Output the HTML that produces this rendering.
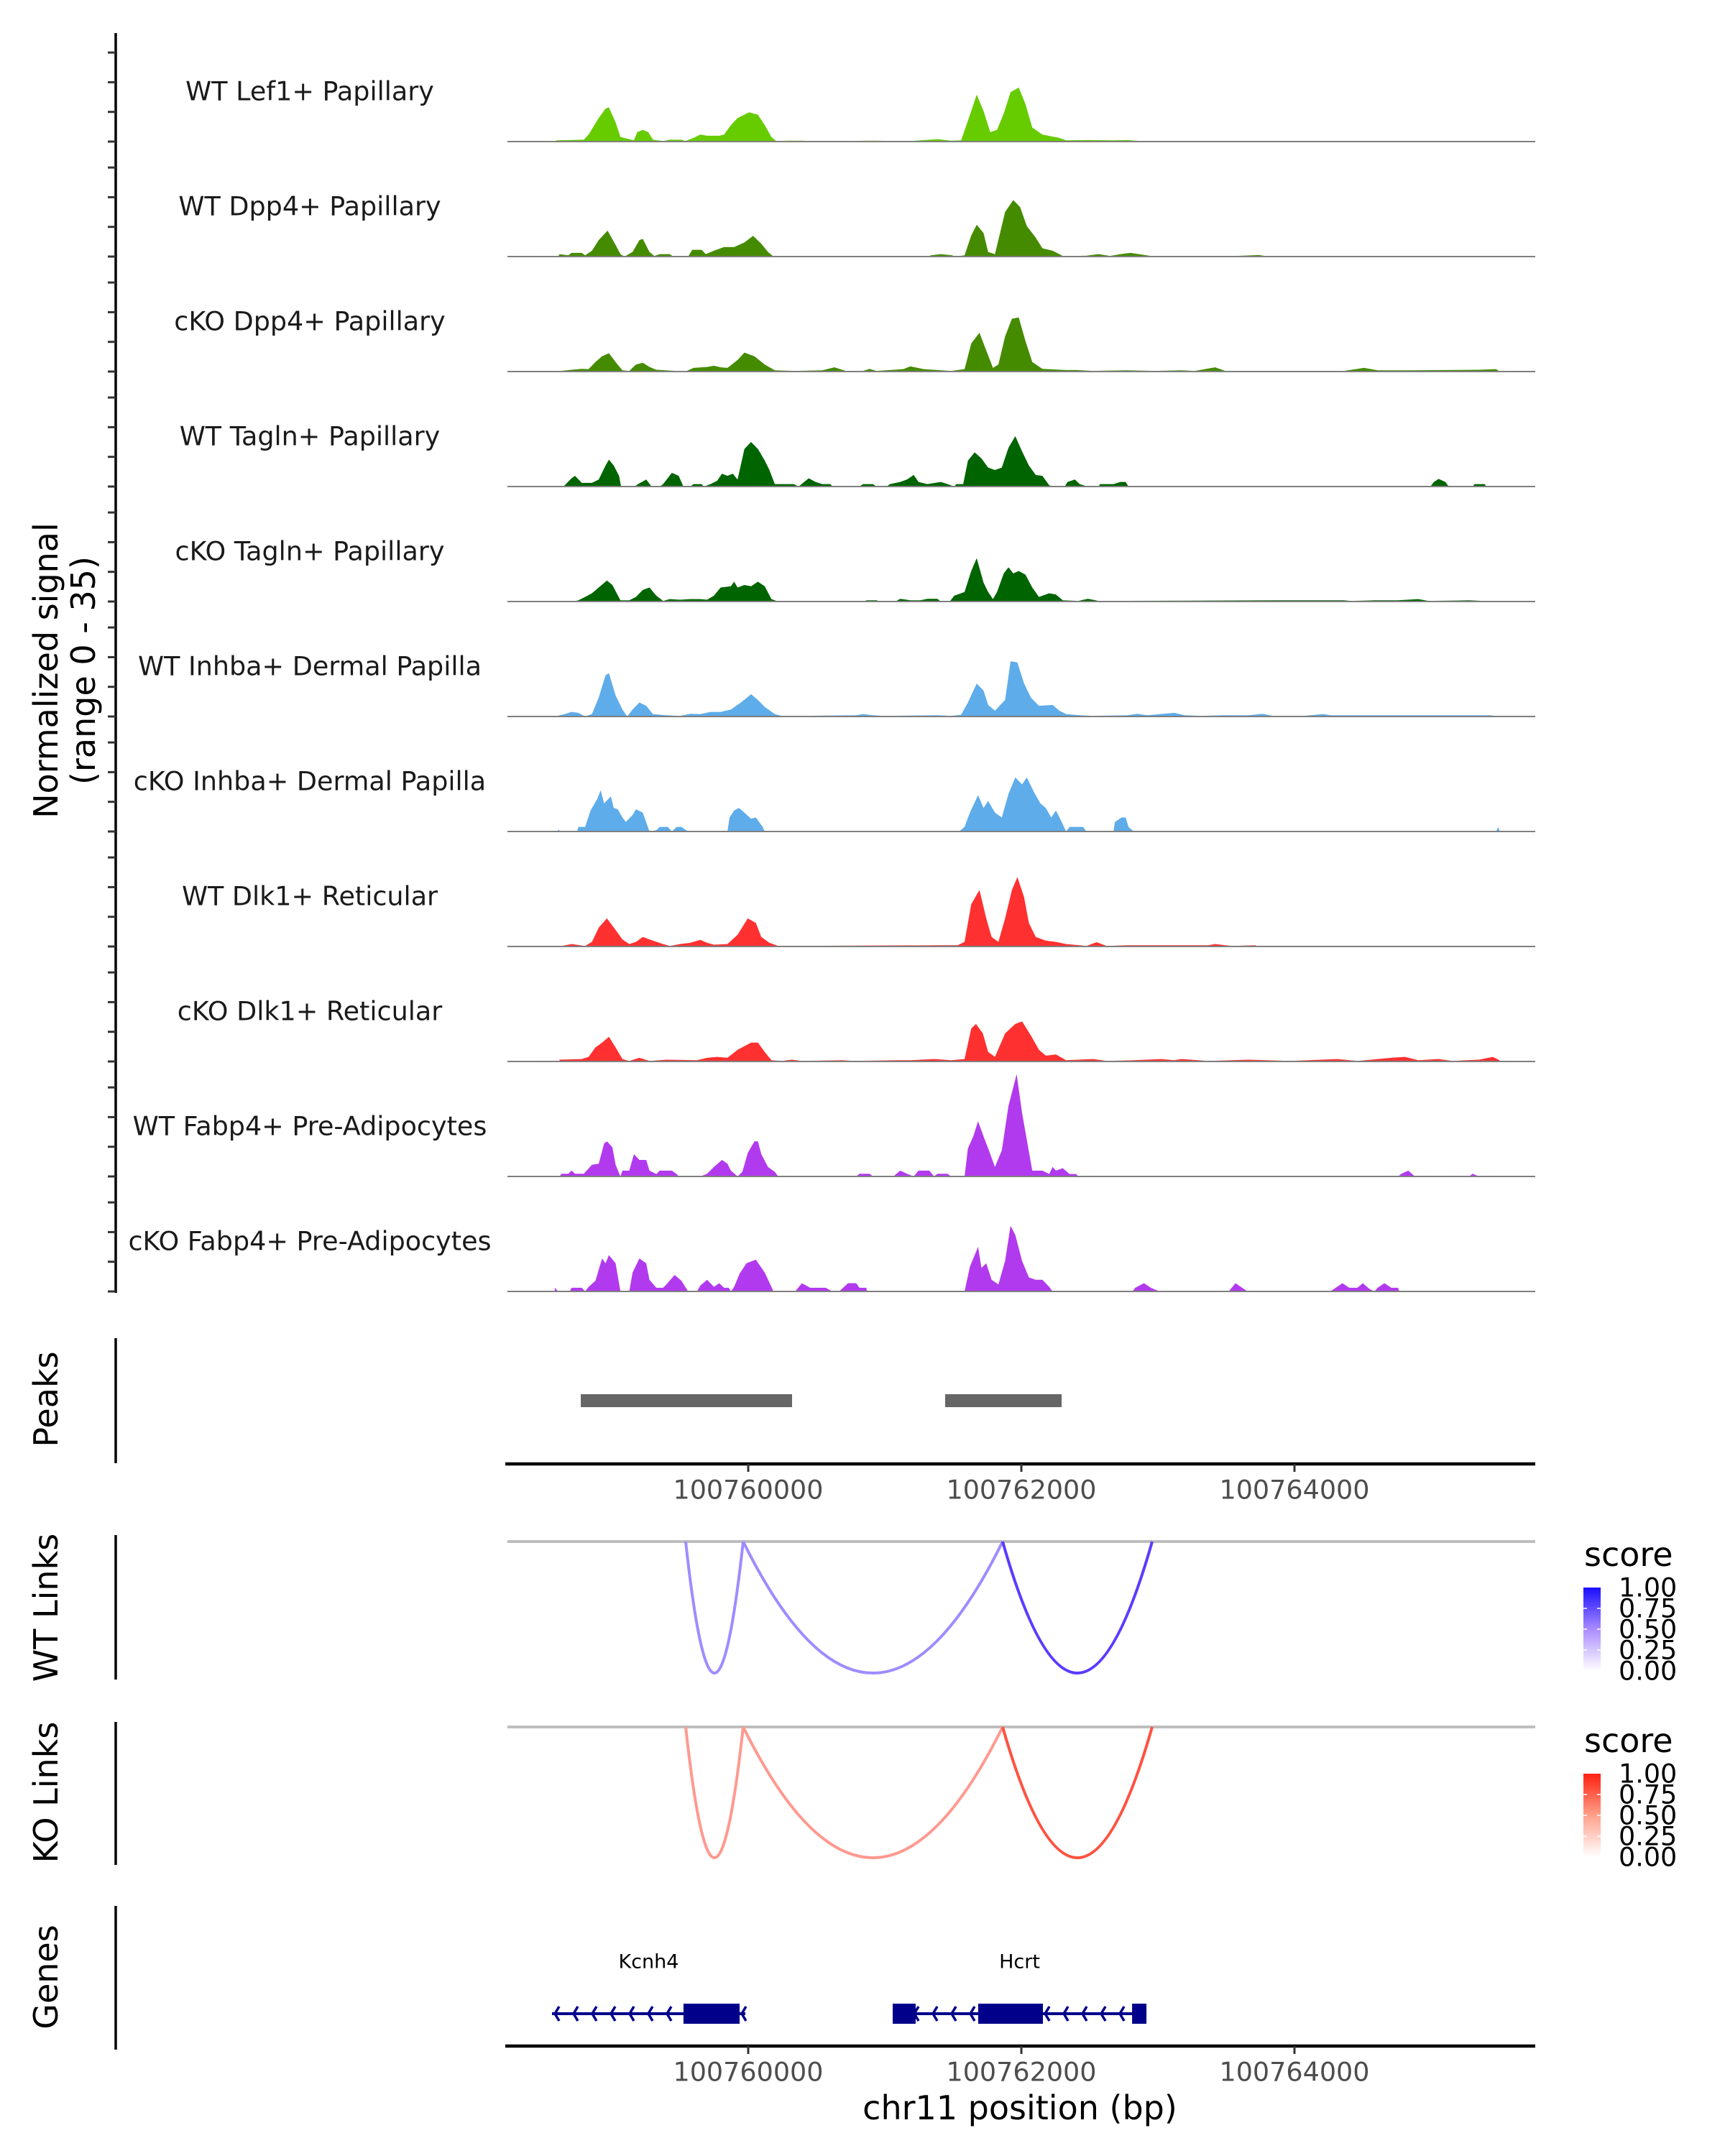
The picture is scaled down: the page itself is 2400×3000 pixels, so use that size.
<!DOCTYPE html>
<html><head><meta charset="utf-8"><style>
html,body{margin:0;padding:0;background:#fff;}
svg{display:block;}
text{font-family:"DejaVu Sans","Liberation Sans",sans-serif;}
</style></head><body>
<svg id="chart" width="2400" height="3000" viewBox="0 0 2400 3000" xmlns="http://www.w3.org/2000/svg">
<defs>
<linearGradient id="gBlue" x1="0" y1="1" x2="0" y2="0"><stop offset="0" stop-color="#ffffff"/><stop offset="0.5" stop-color="#a98cff"/><stop offset="1" stop-color="#1a0dff"/></linearGradient>
<linearGradient id="gRed" x1="0" y1="1" x2="0" y2="0"><stop offset="0" stop-color="#ffffff"/><stop offset="0.5" stop-color="#ffa08a"/><stop offset="1" stop-color="#ff2010"/></linearGradient>
</defs>
<g id="tracks"></g>
<g id="others"></g>
</svg>
<script>
const regionStart = 100757970;
const trackNames = ["WT Lef1+ Papillary","WT Dpp4+ Papillary","cKO Dpp4+ Papillary","WT Tagln+ Papillary","cKO Tagln+ Papillary","WT Inhba+ Dermal Papilla","cKO Inhba+ Dermal Papilla","WT Dlk1+ Reticular","cKO Dlk1+ Reticular","WT Fabp4+ Pre-Adipocytes","cKO Fabp4+ Pre-Adipocytes"];
const trackColors = ["#66cc00","#458b00","#458b00","#006400","#006400","#5eacea","#5eacea","#ff3030","#ff3030","#b23aee","#b23aee"];

const lef1Off = [613,628,826,861,935,985,1010,1060,1094,1159,1193,1218,1258,1298,1332,1407,1456,1541,1570,1630,1679,1729,1818,1853,1903,1952,2037,2101,2151,2200,2235,2324,2423,2523,2919,3217,3415,3515,3589,3663,3703,3753,3802,3852,3901,3951,4011,4060,4110,4184,4308,4358,4507,4705,4804,4903,5201,5796,6391,6689];
const lef1Val = [0,0.4,0.6,2.3,7.7,10.8,11.2,6.2,1.5,0.8,0.4,3.1,3.8,3.1,0.6,0.2,0.6,0.6,0.2,1.2,2.3,1.9,1.9,2.3,5.4,7.7,9.6,8.8,5.4,1.5,0.2,0.3,0.3,0.1,0.3,0.2,0.8,0.3,0.4,10,15.4,10,3.1,3.8,9.2,16.2,17.7,12.3,4.6,2.3,1.2,0.4,0.5,0.4,0.5,0.2,0.2,0.2,0.2,0];

const wtDpp4Off = [638,648,712,737,811,836,886,935,1000,1059,1094,1124,1183,1233,1258,1307,1342,1382,1456,1481,1590,1620,1689,1719,1779,1853,1927,2002,2066,2126,2175,2215,3356,3366,3440,3525,3539,3614,3663,3703,3753,3787,3837,3911,3971,4021,4070,4135,4184,4259,4333,4432,4507,4596,4680,4755,4829,4978,5399,5598,5771,5846];
const wtDpp4Val = [0,0.8,0.4,1.2,1.2,0.4,1.9,5.4,8.5,3.8,0.8,0,1.5,5.4,5.8,1.5,0.2,0.8,0.8,0,0,2.2,2.2,0.8,1.9,3.1,3.1,4.6,6.8,4.2,1.5,0,0,0.4,0.8,0.4,0,0.4,6.9,10.4,7.7,1.5,0.8,14.6,18.5,16.2,10,6.2,2.7,1.9,0.2,0.2,0.3,0.8,0.2,0.8,1.2,0.2,0.2,0.2,0.5,0];

const koDpp4Off = [613,737,811,861,911,960,1010,1059,1109,1159,1208,1258,1307,1357,1506,1580,1630,1729,1779,1828,1878,1952,2002,2076,2151,2225,2374,2572,2661,2746,2870,2919,2969,3167,3217,3316,3415,3515,3614,3663,3723,3773,3822,3862,3911,3961,4011,4060,4110,4184,4358,4432,4556,4804,5003,5201,5300,5449,5523,6391,6540,6639,6887,7383,7507,7532];
const koDpp4Val = [0,0.6,0.9,0.8,3.1,5,6,3.1,0.4,0.2,2.3,2.9,1.5,0.6,0.2,0.2,1.2,1.5,1.9,1.4,1.2,3.8,6.2,5,2.3,0.4,0.2,0.4,1.4,0.2,0.2,0.9,0.2,0.8,1.7,0.8,0.5,0.2,0.8,9.2,12.7,6.9,1.2,2.3,11.5,17.3,17.7,10,3.1,0.9,0.5,0.5,0.2,0.4,0.2,0.4,0.2,1.4,0.2,0.2,1.2,0.4,0.4,0.6,0.8,0];

const wtTaglnOff = [677,737,762,811,886,935,985,1010,1045,1084,1099,1198,1223,1283,1322,1382,1407,1471,1521,1555,1605,1630,1689,1704,1754,1803,1838,1878,1917,1952,2002,2051,2101,2151,2185,2225,2275,2364,2399,2473,2523,2572,2632,2647,2845,2870,2944,2969,3043,3068,3143,3192,3242,3277,3341,3440,3490,3539,3554,3604,3639,3688,3738,3787,3837,3887,3936,3986,4035,4085,4135,4184,4234,4259,4348,4368,4422,4457,4517,4596,4606,4705,4755,4794,4814,7026,7051,7086,7135,7160,7334,7349,7423,7433];
const wtTaglnVal = [0,2.7,3.5,1.2,1.2,2.3,6.9,8.8,6.9,3.5,0,0,0.8,2.3,0,0,0.8,4.5,3.5,0,0,0.8,0.8,0,0.8,1.9,4.2,3.5,4.2,2.3,12.3,14.6,12.3,8.5,5.4,0.8,0.8,0.8,0,2.7,1.5,0.8,0.8,0,0,0.8,0.8,0,0,0.8,1.5,2.3,3.8,1.5,0.8,1.5,0.8,0,0.8,0.8,8.5,11.2,9.2,6.2,5.4,6.2,12.7,16.5,11.5,6.9,3.8,3.5,0.4,0,0,1.5,2.3,0.8,0,0,0.8,0.8,1.5,1.5,0,0,1.5,2.5,1.5,0,0,0.8,0.8,0];

const koTaglnOff = [747,787,836,886,935,995,1035,1094,1159,1208,1258,1307,1357,1407,1456,1531,1605,1679,1729,1779,1828,1903,1927,1952,2002,2051,2101,2151,2200,2250,2885,2895,2969,2994,3108,3143,3217,3291,3341,3415,3440,3505,3539,3614,3663,3703,3753,3787,3822,3852,3901,3936,3971,4011,4060,4110,4159,4234,4283,4333,4447,4517,4596,5895,6094,6391,6441,6615,6788,6937,7011,7309,7408];
const koTaglnVal = [0,0.4,1.5,2.7,4.6,6.9,5.4,0.4,0.4,1.5,3.8,4.6,1.9,0.2,0.8,0.6,0.8,0.8,0.6,1.9,4.6,5,6.5,4.6,5.4,5,6.5,5,0.8,0,0,0.4,0.4,0,0,0.9,0.4,0.4,0.9,0.9,0,0,1.9,3.1,10,14.2,6.2,3.1,0.8,3.1,9.2,11.2,9.2,10,8.8,4.6,1.5,2.7,2.3,0.4,0.2,0.9,0.2,0.4,0.4,0.4,0.2,0.4,0.4,0.8,0.2,0.4,0.2];

const wtInhbaOff = [613,687,737,787,836,886,935,985,1010,1059,1109,1144,1183,1233,1283,1332,1431,1531,1605,1679,1754,1828,1903,1977,2051,2101,2151,2225,2275,2423,2820,2870,2944,3019,3415,3515,3589,3639,3703,3753,3787,3837,3911,3951,4001,4050,4100,4159,4259,4308,4358,4457,4556,4804,4879,4953,5151,5226,5350,5499,5697,5796,5871,6094,6243,6292,6590,7458,7507];
const wtInhbaVal = [0,0.8,1.5,1.2,0,0.8,6.2,13.5,14.2,6.9,2.3,0,2.3,4.6,3.5,0.8,0.4,0.2,0.9,0.8,1.5,1.5,2.3,4.6,7.3,5.4,3.1,0.8,0.2,0.2,0.4,0.8,0.4,0.2,0.4,0.2,0.6,4.6,10.8,8.5,3.8,1.9,5.4,18.1,17.7,10.8,6.2,3.5,3.8,1.9,0.8,0.4,0.2,0.4,0.9,0.4,1.2,0.4,0.2,0.4,0.4,0.9,0.2,0.2,0.8,0.4,0.4,0.4,0.2];

const koInhbaOff = [638,653,777,787,836,876,926,950,975,1025,1045,1074,1109,1134,1183,1208,1258,1307,1357,1382,1441,1471,1506,1541,1590,1878,1893,1927,1962,2002,2051,2086,2136,2151,3574,3614,3653,3713,3753,3787,3837,3887,3936,3986,4035,4070,4120,4169,4209,4249,4283,4318,4358,4383,4482,4507,4705,4715,4764,4794,4814,4854,7507,7522,7532];
const koInhbaVal = [0.8,0,0,1.5,1.5,6.9,10.8,13.5,9.2,11.5,7.7,7.3,4.6,3.1,5.4,7.3,6.2,0,0.4,1.5,1.5,0,1.5,1.5,0,0,4.6,6.9,7.7,6.2,4.2,4.6,1.5,0,0,1.5,6.2,11.9,7.7,10,6.2,4.6,12.3,17.7,15.4,17.7,13.1,9.2,7.7,4.6,6.9,3.8,0,1.5,1.5,0,0,3.1,4.6,4.6,1.5,0,0,1.5,0];

const wtDlk1Off = [613,663,737,836,886,935,995,1059,1109,1159,1208,1258,1332,1407,1456,1531,1605,1679,1729,1779,1878,1952,2027,2086,2126,2185,2250,3415,3564,3614,3663,3723,3773,3812,3862,3911,3961,4001,4050,4085,4135,4209,4283,4358,4457,4507,4581,4655,4804,5151,5399,5449,5573,5747];
const wtDlk1Val = [0.2,0.2,0.8,0.2,1.5,6.2,9.2,5.4,2.3,0.8,1.5,3.1,1.9,0.8,0.2,0.8,1.2,2.2,1.2,0.6,0.8,3.8,9.2,7.7,3.1,1.2,0.2,0.4,0.4,1.5,13.8,18.5,9.2,3.1,1.5,9.2,18.5,22.7,16.2,7.7,3.1,1.9,1.5,0.8,0.4,0.2,1.4,0.2,0.4,0.4,0.4,0.8,0.2,0.4];

const koDlk1Off = [648,811,861,911,960,1010,1059,1109,1159,1233,1307,1431,1655,1729,1803,1878,1952,2051,2101,2151,2200,2275,2349,2423,2721,2800,3118,3217,3391,3515,3614,3663,3698,3748,3787,3837,3911,3986,4035,4100,4159,4209,4283,4358,4556,4655,4854,5052,5151,5201,5399,5697,5995,6342,6491,6739,6838,6937,7086,7185,7383,7482,7532];
const koDlk1Val = [0.6,0.8,1.5,4.6,6.2,8.1,4.6,0.8,0.2,1.2,0.2,0.6,0.4,1.2,1.5,1.2,3.8,6.2,6.2,3.1,0.4,0.2,0.6,0.2,0.4,0.2,0.4,0.4,0.8,0.4,0.8,10.8,12.3,9.2,3.1,1.5,9.2,12.3,13.1,8.5,3.8,1.9,2.3,0.4,0.8,0.2,0.4,0.8,0.4,0.8,0.2,0.6,0.2,0.8,0.2,1.2,1.5,0.4,0.8,0.2,0.6,1.5,0.4];

const wtFabp4Off = [648,663,712,737,762,826,886,935,975,995,1035,1059,1094,1109,1159,1193,1233,1283,1307,1357,1382,1471,1506,1521,1679,1729,1779,1838,1878,1903,1952,1987,2027,2076,2101,2126,2175,2225,2250,2820,2845,2919,2944,3093,3143,3192,3242,3277,3356,3391,3415,3490,3515,3614,3639,3678,3713,3753,3787,3837,3887,3936,3996,4035,4110,4184,4234,4259,4283,4333,4383,4432,4447,6788,6813,6863,6912,7309,7334,7383];
const wtFabp4Val = [0,0.9,0.9,1.9,0.9,0.9,3.8,4.2,10.8,11.5,9.6,3.8,0,1.9,1.9,7.3,5.4,5.4,1.9,0.8,1.9,1.9,0.8,0,0,0.9,3.1,5.4,4.2,1.9,0,1.5,7.7,11.5,11.5,7.3,3.1,1.5,0,0,0.9,0.9,0,0,1.9,0.9,0,1.9,1.9,0,0.9,0.9,0,0,9.2,13.1,18.1,13.1,9.2,3.1,8.5,23.1,33.5,20.8,1.9,1.9,0.8,3.1,1.9,2.7,0.8,0.8,0,0,0.9,1.9,0,0,0.9,0];

const koFabp4Off = [613,638,722,737,811,836,861,911,960,985,1010,1059,1094,1159,1183,1233,1283,1307,1357,1407,1431,1491,1541,1590,1655,1679,1729,1779,1818,1853,1888,1903,1927,1967,2017,2086,2151,2215,2374,2423,2483,2597,2647,2696,2761,2820,2845,2895,2900,3614,3653,3713,3738,3773,3812,3862,3911,3951,3986,4035,4085,4135,4184,4234,4259,4844,4864,4928,4978,5042,5548,5598,5647,5687,6292,6342,6381,6431,6491,6530,6580,6615,6639,6689,6739,6788,6798];
const koFabp4Val = [1.2,0,0,1.2,1.2,0,1.5,3.5,10.8,9.2,11.9,9.2,0,0,6.2,10.8,9.2,3.8,1.2,1.2,2.3,5.4,3.5,0,0,1.9,3.8,1.5,2.7,1.2,1.2,0,1.5,5.8,9.2,10.4,6.2,0,0,2.7,1.2,1.2,0,0,2.7,2.7,1.2,1.2,0,0,8.1,14.6,7.7,9.2,3.8,2.3,10,21.5,18.5,10,4.6,3.8,3.8,1.5,0,0,1.2,2.7,1.2,0,0,2.7,1.2,0,0,1.5,2.7,1.2,1.2,2.7,0.8,0,1.2,2.7,1.2,1.2,0];

const trackOffsets = [lef1Off,wtDpp4Off,koDpp4Off,wtTaglnOff,koTaglnOff,wtInhbaOff,koInhbaOff,wtDlk1Off,koDlk1Off,wtFabp4Off,koFabp4Off];
const trackValues = [lef1Val,wtDpp4Val,koDpp4Val,wtTaglnVal,koTaglnVal,wtInhbaVal,koInhbaVal,wtDlk1Val,koDlk1Val,wtFabp4Val,koFabp4Val];

const peakStarts = [100758774, 100761442];
const peakEnds = [100760321, 100762295];
const xTicks = [100760000, 100762000, 100764000];
const linkStarts = [100759542, 100759963, 100761863];
const linkEnds = [100759963, 100761863, 100762958];
const wtLinkScores = [0.5, 0.5, 0.85];
const koLinkScores = [0.5, 0.5, 0.85];
const legendTicks = [0, 0.25, 0.5, 0.75, 1];
const geneNames = ["Kcnh4", "Hcrt"];
const geneStarts = [100758563, 100761058];
const geneEnds = [100759979, 100762916];
const exonStarts = [100759526, 100761058, 100761684, 100762811];
const exonEnds = [100759937, 100761226, 100762158, 100762916];

const NS = "http://www.w3.org/2000/svg";
function xs(bp){ return 1041 + (bp - 100760000) * 0.19; }
const PX_PER_UNIT = 4.25;
function ys(i, v){ return 197 + 160 * i - v * PX_PER_UNIT; }
function mk(tag, attrs, parent){ const e=document.createElementNS(NS,tag); for(const k in attrs) e.setAttribute(k, attrs[k]); parent.appendChild(e); return e; }
function txt(s, attrs, parent){ const e=mk('text', attrs, parent); e.textContent=s; return e; }

const T = document.getElementById('tracks');
const O = document.getElementById('others');
const X0 = 706, X1 = 2136;

let el = mk('line',{x1:161,y1:46,x2:161,y2:1799,stroke:'#000','stroke-width':3.5},T);


for(let i=0;i<11;i++){
  for(let k=0;k<4;k++){
    const y = 197+160*i - k*41.3;
    if(y<46) continue;
    el = mk('line',{x1:150,y1:y,x2:161,y2:y,stroke:'#333','stroke-width':3},T);
    
    
  }
}
el = txt('Normalized signal',{x:0,y:0,'font-size':46,'text-anchor':'middle','dominant-baseline':'central',transform:'translate(64,933) rotate(-90)'},T);


el = txt('(range 0 - 35)',{x:0,y:0,'font-size':46,'text-anchor':'middle','dominant-baseline':'central',transform:'translate(116,933) rotate(-90)'},T);



for(let i=0;i<11;i++){
  const g = mk('g',{},T);
  
  
  const off = trackOffsets[i], val = trackValues[i];
  const n = Math.min(off.length, val.length);
  const base = ys(i,0);
  let d = 'M'+xs(regionStart+off[0]).toFixed(1)+','+base;
  for(let j=0;j<n;j++) d += 'L'+xs(regionStart+off[j]).toFixed(1)+','+ys(i,val[j]).toFixed(1);
  d += 'L'+xs(regionStart+off[n-1]).toFixed(1)+','+base+'Z';
  el = mk('path',{d:d,fill:trackColors[i]},g);
  
  
  el = mk('line',{x1:X0,y1:base,x2:X1,y2:base,stroke:'#7f7f7f','stroke-width':2},g);
  
  
  el = txt(trackNames[i],{x:431,y:base-70,'font-size':36.5,fill:'#1a1a1a','text-anchor':'middle','dominant-baseline':'central'},g);
  
  
}

el = mk('line',{x1:161,y1:1862,x2:161,y2:2036,stroke:'#000','stroke-width':3.5},O);


el = txt('Peaks',{x:0,y:0,'font-size':46,'text-anchor':'middle','dominant-baseline':'central',transform:'translate(64,1947) rotate(-90)'},O);


for(let i=0;i<peakStarts.length;i++){
  el = mk('rect',{x:xs(peakStarts[i]),y:1940,width:xs(peakEnds[i])-xs(peakStarts[i]),height:18,fill:'#666666'},O);
  
  
}
function xAxis(y, name){
  let e = mk('line',{x1:703,y1:y,x2:X1,y2:y,stroke:'#000','stroke-width':4.5},O);
  
  
  for(const t of xTicks){
    e = mk('line',{x1:xs(t),y1:y,x2:xs(t),y2:y+11,stroke:'#333','stroke-width':3},O);
    
    
    e = txt(String(t),{x:xs(t),y:y+36,'font-size':36.5,fill:'#4d4d4d','text-anchor':'middle','dominant-baseline':'central'},O);
    
    
  }
}
xAxis(2037,'peaks-x-axis');

function linksTrack(y0, depth, axTop, axBot, label, labelY, scores, grad, hi, legendTop, legendBot, prefix){
  let e = mk('line',{x1:161,y1:axTop,x2:161,y2:axBot,stroke:'#000','stroke-width':3.5},O);
  
  
  e = txt(label,{x:0,y:0,'font-size':46,'text-anchor':'middle','dominant-baseline':'central',transform:'translate(64,'+labelY+') rotate(-90)'},O);
  
  
  e = mk('line',{x1:X0,y1:y0,x2:X1,y2:y0,stroke:'#bebebe','stroke-width':4},O);
  
  
  for(let i=0;i<linkStarts.length;i++){
    const a=xs(linkStarts[i]), b=xs(linkEnds[i]), cy=y0+depth*2;
    const s = scores[i];
    const col = 'rgb('+Math.round(255+(hi[0]-255)*s)+','+Math.round(255+(hi[1]-255)*s)+','+Math.round(255+(hi[2]-255)*s)+')';
    e = mk('path',{d:'M'+a+','+y0+' Q'+((a+b)/2)+','+cy+' '+b+','+y0,fill:'none',stroke:col,'stroke-width':4},O);
    
    
  }
  e = txt('score',{x:2204,y:legendTop-30,'font-size':46,fill:'#000'},O);
  
  
  e = mk('rect',{x:2203,y:legendTop,width:24,height:legendBot-legendTop,fill:'url(#'+grad+')'},O);
  
  
  for(const v of legendTicks){
    const y = legendBot - v*(legendBot-legendTop);
    if(v>0 && v<1){
      e = mk('line',{x1:2203,y1:y,x2:2208,y2:y,stroke:'#fff','stroke-width':1.5},O);
      
      
      e = mk('line',{x1:2222,y1:y,x2:2227,y2:y,stroke:'#fff','stroke-width':1.5},O);
      
      
    }
    e = txt(v.toFixed(2),{x:2252,y:y,'font-size':36.5,fill:'#000','dominant-baseline':'central'},O);
    
    
  }
}
linksTrack(2145,183,2136,2337,'WT Links',2237,wtLinkScores,'gBlue',[60,25,255],2209,2325,'wt-links');
linksTrack(2403,182,2396,2595,'KO Links',2494,koLinkScores,'gRed',[255,50,30],2468,2584,'ko-links');

el = mk('line',{x1:161,y1:2652,x2:161,y2:2852,stroke:'#000','stroke-width':3.5},O);


el = txt('Genes',{x:0,y:0,'font-size':46,'text-anchor':'middle','dominant-baseline':'central',transform:'translate(64,2751) rotate(-90)'},O);


const GY = 2802;
for(let i=0;i<geneNames.length;i++){
  const a=xs(geneStarts[i]), b=xs(geneEnds[i]);
  el = mk('line',{x1:a,y1:GY,x2:b,y2:GY,stroke:'#00008b','stroke-width':4},O);
  
  
  for(let x=a+4; x<b-4; x+=26){
    el = mk('path',{d:'M'+(x+6)+','+(GY-10)+' L'+x+','+GY+' L'+(x+6)+','+(GY+10),fill:'none',stroke:'#00008b','stroke-width':3.5},O);
    
    
  }
  el = txt(geneNames[i],{x:(a+b)/2,y:2730,'font-size':27,fill:'#000','text-anchor':'middle','dominant-baseline':'central'},O);
  
  
}
for(let i=0;i<exonStarts.length;i++){
  el = mk('rect',{x:xs(exonStarts[i]),y:2788,width:xs(exonEnds[i])-xs(exonStarts[i]),height:28,fill:'#00008b'},O);
  
  
}
xAxis(2847,'x-axis');
el = txt('chr11 position (bp)',{x:1419,y:2933,'font-size':46,fill:'#000','text-anchor':'middle','dominant-baseline':'central'},O);


</script>
</body></html>
